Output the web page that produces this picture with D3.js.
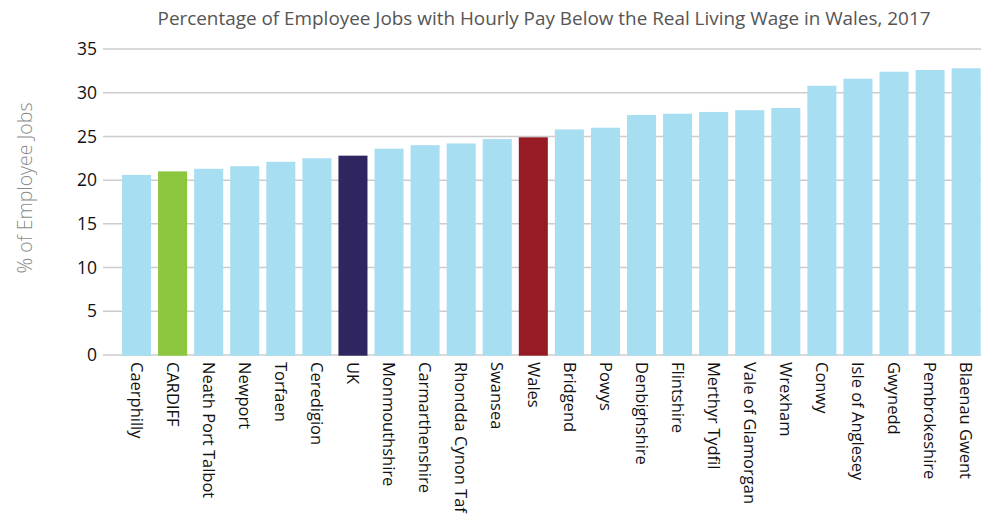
<!DOCTYPE html>
<html>
<head>
<meta charset="utf-8">
<script src="https://cdn.jsdelivr.net/npm/d3@7"></script>
<style>
  body { margin: 0; background: #fff; }
  svg { display: block; font-family: "Open Sans", sans-serif; }
</style>
</head>
<body>
<svg id="chart"></svg>
<script>
const areas = ['Caerphilly', 'CARDIFF', 'Neath Port Talbot', 'Newport', 'Torfaen', 'Ceredigion',
  'UK', 'Monmouthshire', 'Carmarthenshire', 'Rhondda Cynon Taf', 'Swansea', 'Wales',
  'Bridgend', 'Powys', 'Denbighshire', 'Flintshire', 'Merthyr Tydfil', 'Vale of Glamorgan',
  'Wrexham', 'Conwy', 'Isle of Anglesey', 'Gwynedd', 'Pembrokeshire', 'Blaenau Gwent'];
const pctBelow = [20.6, 21.0, 21.3, 21.6, 22.1, 22.5,
  22.8, 23.6, 24.0, 24.2, 24.7, 24.9,
  25.8, 26.0, 27.45, 27.6, 27.8, 28.0,
  28.25, 30.8, 31.6, 32.4, 32.6, 32.8];
const yTicks = [0, 5, 10, 15, 20, 25, 30, 35];
const highlight = { 'CARDIFF': '#8cc63f', 'UK': '#30265f', 'Wales': '#971b24' };

const width = 981,
      height = 515;

const svg = d3.select('#chart')
  .attr('width', width)
  .attr('height', height);

const x = d3.scaleBand()
  .domain(areas)
  .range([118.5, 984.2])
  .paddingInner(0.195)
  .paddingOuter(0.0975);

const y = d3.scaleLinear()
  .domain([0, 35])
  .range([355, 49]);

// gridlines
svg.append('g')
  .selectAll('line')
  .data(yTicks)
  .enter()
  .append('line')
  .attr('x1', 103)
  .attr('x2', width)
  .attr('y1', d => y(d))
  .attr('y2', d => y(d))
  .attr('stroke', '#cccccc')
  .attr('stroke-width', 1.5);

// y tick labels
svg.append('g')
  .selectAll('text')
  .data(yTicks)
  .enter()
  .append('text')
  .attr('x', 97)
  .attr('y', d => y(d))
  .attr('dy', '0.35em')
  .attr('text-anchor', 'end')
  .attr('font-size', 17.5)
  .attr('fill', '#111')
  .text(d => d);

// bars
svg.append('g')
  .selectAll('rect')
  .data(areas)
  .enter()
  .append('rect')
  .attr('x', d => x(d))
  .attr('width', x.bandwidth())
  .attr('y', (d, i) => y(pctBelow[i]))
  .attr('height', (d, i) => y(0) - y(pctBelow[i]) + 0.7)
  .attr('fill', d => highlight[d] || '#a8def2');

// x labels
svg.append('g')
  .selectAll('text')
  .data(areas)
  .enter()
  .append('text')
  .attr('transform', d => `translate(${x(d) + x.bandwidth() / 2}, 362) rotate(90)`)
  .attr('dy', '0.35em')
  .attr('font-size', 16.5)
  .attr('fill', '#111')
  .text(d => d);

// title
svg.append('text')
  .attr('x', 544)
  .attr('y', 25)
  .attr('text-anchor', 'middle')
  .attr('font-size', 18.9)
  .attr('fill', '#555')
  .text('Percentage of Employee Jobs with Hourly Pay Below the Real Living Wage in Wales, 2017');

// y axis title
svg.append('text')
  .attr('transform', 'translate(25, 188) rotate(-90)')
  .attr('dy', '0.35em')
  .attr('text-anchor', 'middle')
  .attr('font-size', 19.5)
  .attr('font-weight', 300)
  .attr('fill', '#8a8a8a')
  .text('% of Employee Jobs');
</script>
</body>
</html>
